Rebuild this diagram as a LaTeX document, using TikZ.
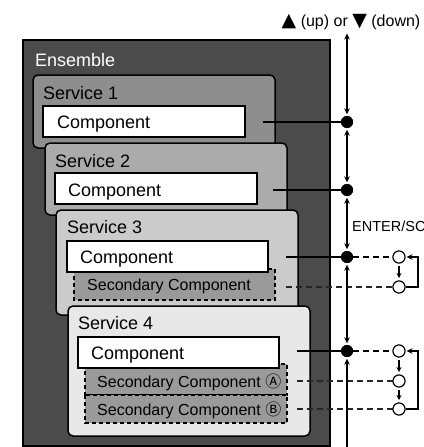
\documentclass[tikz,border=0pt]{standalone}
\usepackage{fontspec}
\setmainfont{Liberation Sans}
\newfontfamily\symfont{DejaVu Sans}
\newfontfamily\circfont{Noto Sans CJK JP}
\usetikzlibrary{arrows.meta}
\definecolor{ensfill}{HTML}{4B4B4B}
\definecolor{svcA}{HTML}{8E8E8E}
\definecolor{svcB}{HTML}{ABABAB}
\definecolor{svcC}{HTML}{CBCBCB}
\definecolor{svcD}{HTML}{E8E8E8}
\definecolor{secfill}{HTML}{9A9A9A}
\definecolor{linegray}{HTML}{262626}
\begin{document}
\begin{tikzpicture}[x=1pt,y=-1pt,
  >={Stealth[length=6pt,width=5.5pt]},
  ensbox/.style={draw=black, fill=ensfill, line width=1.5pt},
  svcbox/.style={draw=black, line width=1.5pt, rounded corners=5pt},
  compbox/.style={draw=black, fill=white, line width=1.2pt},
  secbox/.style={draw=black, fill=secfill, line width=1.1pt, dash pattern=on 4pt off 3pt},
  maintext/.style={anchor=base west, inner sep=0pt, font=\fontsize{18}{20}\selectfont},
  sectext/.style={anchor=base west, inner sep=0pt, font=\fontsize{16}{18}\selectfont},
  dot/.style={circle, fill=black, minimum size=12pt, inner sep=0pt},
  ring/.style={circle, draw=black, fill=white, line width=1pt, minimum size=12pt, inner sep=0pt},
  vline/.style={line width=1.5pt, shorten <=1.5pt, shorten >=1.5pt},
  conn/.style={line width=1.5pt},
  dconn/.style={draw=linegray, line width=1.3pt, dash pattern=on 6pt off 4pt},
  step3/.style={->, line width=1.3pt, shorten <=2.5pt, shorten >=2.5pt, >={Stealth[length=5pt,width=5pt]}},
  bracket/.style={->, line width=1.8pt, shorten >=1pt}
]
\useasboundingbox (0,0) rectangle (423,447);

% Ensemble
\draw[ensbox] (23,40) rectangle (330,446);
\node[maintext, text=white] (ens) at (35,66) {Ensemble};

% Service 1
\draw[svcbox, fill=svcA] (33,75) rectangle (275,148);
\node[maintext] (s1t) at (43,99) {Service 1};
\draw[compbox] (43,106) rectangle (245,137);
\node[maintext] (c1t) at (57,128) {Component};

% Service 2
\draw[svcbox, fill=svcB] (45,143) rectangle (287,215);
\node[maintext] (s2t) at (55,167) {Service 2};
\draw[compbox] (55,173) rectangle (257,204);
\node[maintext] (c2t) at (68,196) {Component};

% Service 3
\draw[svcbox, fill=svcC] (56,210) rectangle (298,315);
\node[maintext] (s3t) at (67,233) {Service 3};
\draw[secbox] (74,269) rectangle (275,300);
\node[sectext] (sc3t) at (87,290) {Secondary Component};
\draw[compbox] (67,241) rectangle (268,272);
\node[maintext] (c3t) at (80,263) {Component};

% Service 4
\draw[svcbox, fill=svcD] (68,306) rectangle (310,436);
\node[maintext] (s4t) at (78,329) {Service 4};
\draw[secbox] (85,364) rectangle (287,395);
\draw[secbox] (85,395) rectangle (287,423);
\node[sectext] (sc4at) at (97,387) {Secondary Component {\circfont Ⓐ}};
\node[sectext] (sc4bt) at (97,415) {Secondary Component {\circfont Ⓑ}};
\draw[compbox] (78,337) rectangle (279,368);
\node[maintext] (c4t) at (91,359) {Component};

% labels on the right
\node[anchor=base, inner sep=0pt, font=\fontsize{16}{18}\selectfont] (updown) at (351,27) {{\symfont\fontsize{19}{20}\selectfont ▲} (up) or {\symfont\fontsize{19}{20}\selectfont ▼} (down)};
\node[anchor=base west, inner sep=0pt, font=\fontsize{14.5}{16}\selectfont] (enter) at (352,231) {ENTER/SC};

% coordinates
\coordinate (top) at (347,32);
\coordinate (bot) at (347,447);
\coordinate (p1) at (263,122);
\coordinate (p2) at (273,190);
\coordinate (p3) at (286,257);
\coordinate (q3) at (286,287);
\coordinate (p4) at (297,351);
\coordinate (q4a) at (297,381);
\coordinate (q4b) at (297,409);
\coordinate (brx) at (418,0);

% dots and rings
\node[dot] (d1) at (347,122) {};
\node[dot] (d2) at (347,190) {};
\node[dot] (d3) at (347,257) {};
\node[dot] (d4) at (347,351) {};
\node[ring] (r31) at (399,257) {};
\node[ring] (r32) at (399,287) {};
\node[ring] (r41) at (399,351) {};
\node[ring] (r42) at (399,381) {};
\node[ring] (r43) at (399,409) {};

% dashed connectors (under vertical line)
\draw[dconn] (q3) -- (r32);
\draw[dconn] (q4a) -- (r42);
\draw[dconn] (q4b) -- (r43);
\draw[dconn, draw=black] (d3) -- (r31);
\draw[dconn, draw=black] (d4) -- (r41);

% vertical arrows
\draw[vline, <->] (top) -- (d1);
\draw[vline, <->] (d1) -- (d2);
\draw[vline, <->] (d2) -- (d3);
\draw[vline, <->] (d3) -- (d4);
\draw[line width=1.5pt, shorten >=1.5pt, ->] (bot) -- (d4);

% solid connectors
\draw[conn] (p1) -- (d1);
\draw[conn] (p2) -- (d2);
\draw[conn] (p3) -- (d3);
\draw[conn] (p4) -- (d4);

% redraw dots and rings on top
\node[dot] at (d1) {};
\node[dot] at (d2) {};
\node[dot] at (d3) {};
\node[dot] at (d4) {};
\node[ring] at (r31) {};
\node[ring] at (r32) {};
\node[ring] at (r41) {};
\node[ring] at (r42) {};
\node[ring] at (r43) {};

% steps between rings
\draw[step3] (r31) -- (r32);
\draw[step3] (r41) -- (r42);
\draw[step3] (r42) -- (r43);

% brackets
\draw[bracket] (r32.east) -- (r32.east -| brx) |- (r31.east);
\draw[bracket] (r43.east) -- (r43.east -| brx) |- (r41.east);
\end{tikzpicture}
\end{document}
